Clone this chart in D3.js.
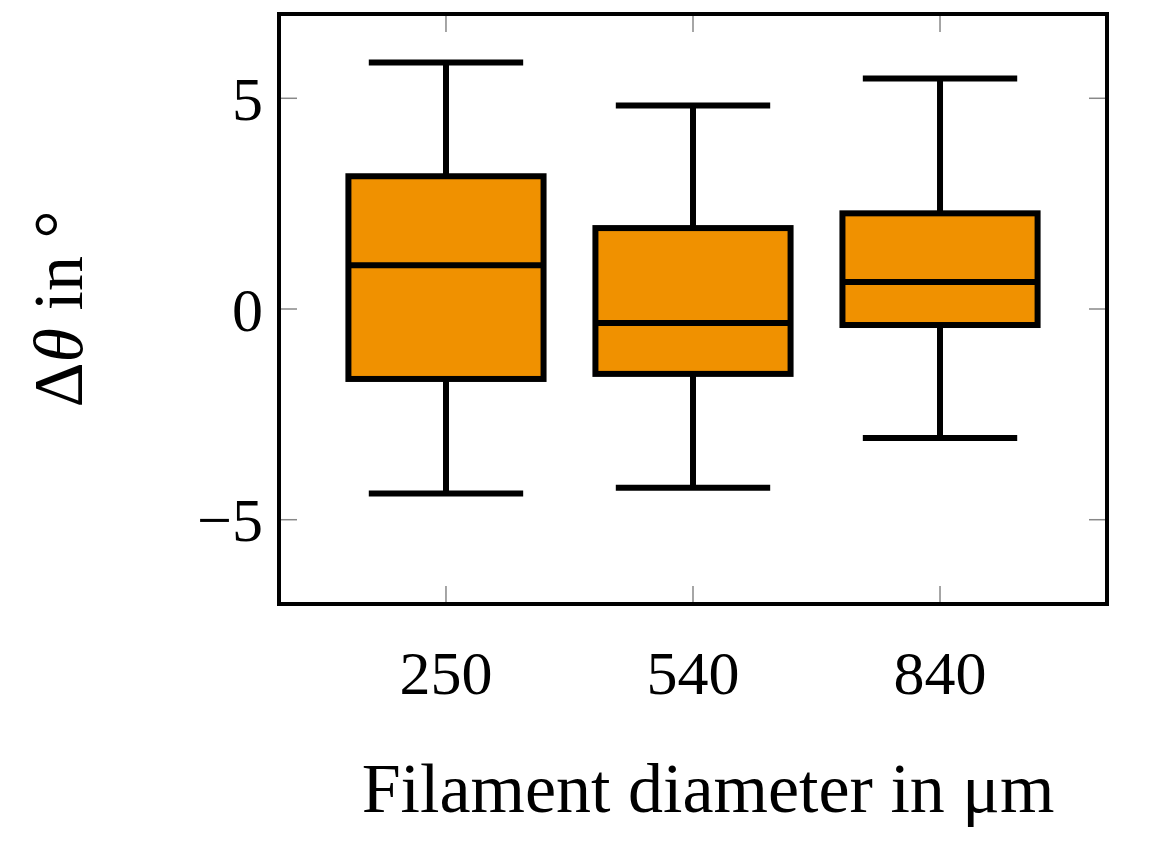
<!DOCTYPE html>
<html><head><meta charset="utf-8">
<script src="https://cdn.jsdelivr.net/npm/d3@7"></script>
<style>body{margin:0;background:#fff}</style>
</head><body>
<script>
const categories = ["250","540","840"];
const whiskerLow = [-4.38,-4.24,-3.06];
const q1 = [-1.66,-1.54,-0.38];
const median = [1.04,-0.33,0.64];
const q3 = [3.15,1.92,2.27];
const whiskerHigh = [5.85,4.83,5.47];
const yTicks = [-5,0,5];

const W=1166,H=846, L=279,R=1107,T=14,B=604;
const svg=d3.select("body").append("svg").attr("width",W).attr("height",H);
const x=d3.scaleLinear().domain([0.324,3.676]).range([L,R]);
const y=d3.scaleLinear().domain([-7,7]).range([B,T]);
const font="'Liberation Serif','DejaVu Serif',serif";
const bw=0.79, cw=0.625;

// ticks
const g=svg.append("g");
yTicks.forEach(v=>{
  g.append("line").attr("x1",L).attr("x2",L+18).attr("y1",y(v)).attr("y2",y(v)).attr("stroke","#888").attr("stroke-width",1.5);
  g.append("line").attr("x1",R).attr("x2",R-18).attr("y1",y(v)).attr("y2",y(v)).attr("stroke","#888").attr("stroke-width",1.5);
  g.append("text").attr("x",L-16).attr("y",y(v)).attr("dy","0.35em").attr("text-anchor","end")
   .attr("font-family",font).attr("font-size",62).text(v<0?"\u2212"+(-v):v);
});
categories.forEach((c,i)=>{
  const cx=x(i+1);
  g.append("line").attr("x1",cx).attr("x2",cx).attr("y1",B).attr("y2",B-18).attr("stroke","#888").attr("stroke-width",1.5);
  g.append("line").attr("x1",cx).attr("x2",cx).attr("y1",T).attr("y2",T+18).attr("stroke","#888").attr("stroke-width",1.5);
  g.append("text").attr("x",cx).attr("y",B+90).attr("text-anchor","middle")
   .attr("font-family",font).attr("font-size",62).text(c);
});

// boxes
categories.forEach((c,i)=>{
  const p=i+1, s=svg.append("g").attr("stroke","#000").attr("stroke-width",6);
  s.append("line").attr("x1",x(p)).attr("x2",x(p)).attr("y1",y(whiskerHigh[i])).attr("y2",y(q3[i]));
  s.append("line").attr("x1",x(p)).attr("x2",x(p)).attr("y1",y(q1[i])).attr("y2",y(whiskerLow[i]));
  [whiskerHigh[i],whiskerLow[i]].forEach(v=>s.append("line").attr("x1",x(p-cw/2)).attr("x2",x(p+cw/2)).attr("y1",y(v)).attr("y2",y(v)));
  s.append("rect").attr("x",x(p-bw/2)).attr("width",x(p+bw/2)-x(p-bw/2)).attr("y",y(q3[i])).attr("height",y(q1[i])-y(q3[i])).attr("fill","#f09100");
  s.append("line").attr("x1",x(p-bw/2)).attr("x2",x(p+bw/2)).attr("y1",y(median[i])).attr("y2",y(median[i]));
});

svg.append("rect").attr("x",L).attr("y",T).attr("width",R-L).attr("height",B-T).attr("fill","none").attr("stroke","#000").attr("stroke-width",4);

svg.append("text").attr("x",(L+R)/2+15).attr("y",812).attr("text-anchor","middle").attr("font-family",font).attr("font-size",70).text("Filament diameter in μm");
const yl=svg.append("text").attr("transform",`translate(82,${(T+B)/2}) rotate(-90)`).attr("text-anchor","middle").attr("font-family",font).attr("font-size",70);
yl.append("tspan").text("Δ");
yl.append("tspan").attr("font-style","italic").text("θ");
yl.append("tspan").text(" in °");
</script>
</body></html>
